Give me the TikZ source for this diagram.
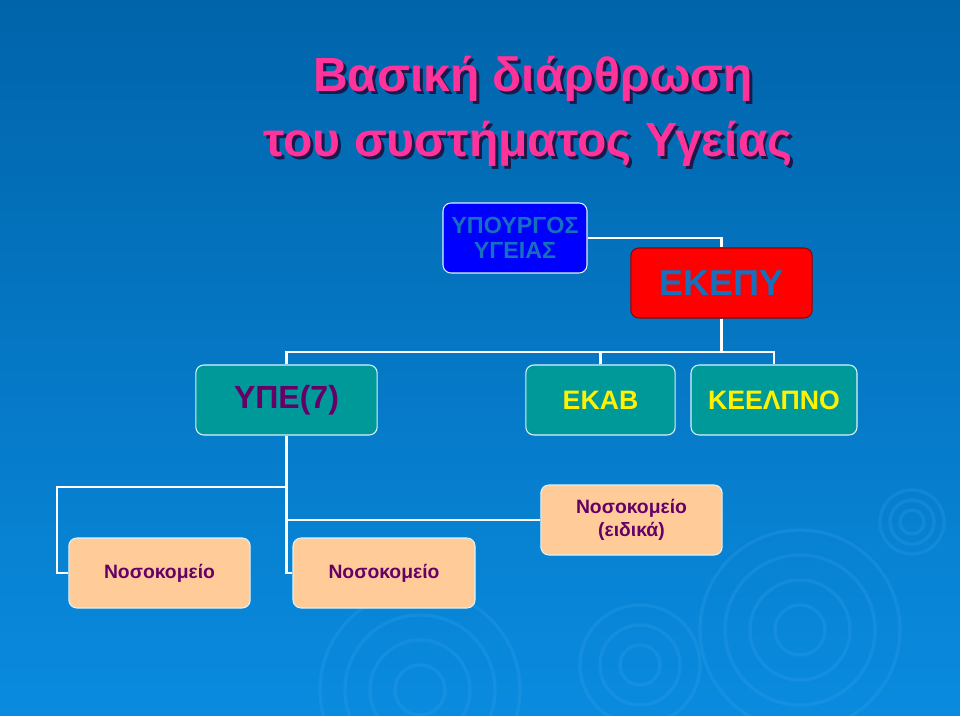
\documentclass[tikz,border=0pt]{standalone}
\usepackage{fontspec}
\setmainfont{Liberation Sans}
\usepackage{xcolor}
\usetikzlibrary{positioning}

\definecolor{slidetop}{HTML}{0064AA}
\definecolor{slidebot}{HTML}{0A8BDF}
\definecolor{titlepink}{HTML}{FF3399}
\definecolor{titleshadow}{HTML}{1A1A4A}
\definecolor{minblue}{HTML}{0000FF}
\definecolor{textblue}{HTML}{1570BE}
\definecolor{kepred}{HTML}{FF0000}
\definecolor{tealbox}{HTML}{009999}
\definecolor{plum}{HTML}{660066}
\definecolor{peach}{HTML}{FFCC99}
\definecolor{ripplecol}{HTML}{3FA6F0}

% title text with a dark drop shadow
\newcommand{\shadowtext}[1]{\makebox[0pt][l]{\hspace{2.2pt}\raisebox{-2.2pt}{\color{titleshadow}#1}}{\color{titlepink}#1}}

\tikzset{
    orgbox/.style={rectangle, rounded corners=6pt, draw=white!85!cyan, line width=0.8pt, minimum height=52.5pt, align=center, inner sep=2pt},
    link/.style={draw=white, line width=2.2pt},
    ripple/.style={draw=ripplecol, line width=2.5pt, opacity=0.22}
}

\begin{document}
\begin{tikzpicture}[x=0.75pt, y=-0.75pt]
    % Background
    \shade[top color=slidetop, bottom color=slidebot] (0,0) rectangle (960,716);
    \useasboundingbox (0,0) rectangle (960,716);

    % Ripples
    \foreach \r in {12,22,32} \draw[ripple] (912,522) circle (\r);
    \foreach \r in {25,50,75,100} \draw[ripple] (800,630) circle (\r);
    \foreach \r in {20,40,60} \draw[ripple] (640,665) circle (\r);
    \foreach \r in {25,50,75,100} \draw[ripple] (420,690) circle (\r);

    % Title
    \node (titleA) at (533,80) {\fontsize{36}{42}\selectfont\bfseries\shadowtext{Βασική διάρθρωση}};
    \node (titleB) at (528,145) {\fontsize{36}{42}\selectfont\bfseries\shadowtext{του συστήματος Υγείας}};

    % Nodes
    \node (min) [orgbox, fill=minblue, minimum width=108pt, font=\fontsize{17.5}{18.5}\selectfont\bfseries, text=textblue] at (515,238) {ΥΠΟΥΡΓΟΣ\\ΥΓΕΙΑΣ};
    \node (kep) [orgbox, fill=kepred, draw=red!60!black, minimum width=136pt, font=\fontsize{27}{30}\selectfont\bfseries, text=textblue] at (721.5,283) {ΕΚΕΠΥ};
    \node (ype) [orgbox, fill=tealbox, minimum width=136pt, font=\fontsize{24}{28}\selectfont\bfseries, text=plum] at (286.5,400) {ΥΠΕ(7)};
    \node (ekab) [orgbox, fill=tealbox, minimum width=112pt, font=\fontsize{20}{23}\selectfont\bfseries, text=yellow] at (600.5,400) {ΕΚΑΒ};
    \node (keel) [orgbox, fill=tealbox, minimum width=124.5pt, font=\fontsize{20}{23}\selectfont\bfseries, text=yellow] at (774,400) {ΚΕΕΛΠΝΟ};
    \node (nosA) [orgbox, fill=peach, minimum width=136pt, font=\fontsize{14.5}{17}\selectfont\bfseries, text=plum] at (159.5,573) {Νοσοκομείο};
    \node (nosB) [orgbox, fill=peach, minimum width=136.5pt, font=\fontsize{14.5}{17}\selectfont\bfseries, text=plum] at (384,573) {Νοσοκομείο};
    \node (nosC) [orgbox, fill=peach, minimum width=136pt, font=\fontsize{14.5}{17}\selectfont\bfseries, text=plum] at (631.5,520) {Νοσοκομείο\\(ειδικά)};

    % Connectors
    \coordinate (bus) at (0,352);
    \coordinate (split) at (57,487);
    \draw[link] (min.east) -| (kep.north);
    \draw[link] (kep.south) -- (kep.south |- bus);
    \draw[link] (ype.north) -- (ype.north |- bus) -- (keel.north |- bus) -- (keel.north);
    \draw[link] (ekab.north) -- (ekab.north |- bus);
    \draw[link] (ype.south) -- (ype.south |- nosB.west) -- (nosB.west);
    \draw[link] (ype.south |- nosC.west) -- (nosC.west);
    \draw[link] (ype.south |- split) -- (split) |- (nosA.west);
\end{tikzpicture}
\end{document}
